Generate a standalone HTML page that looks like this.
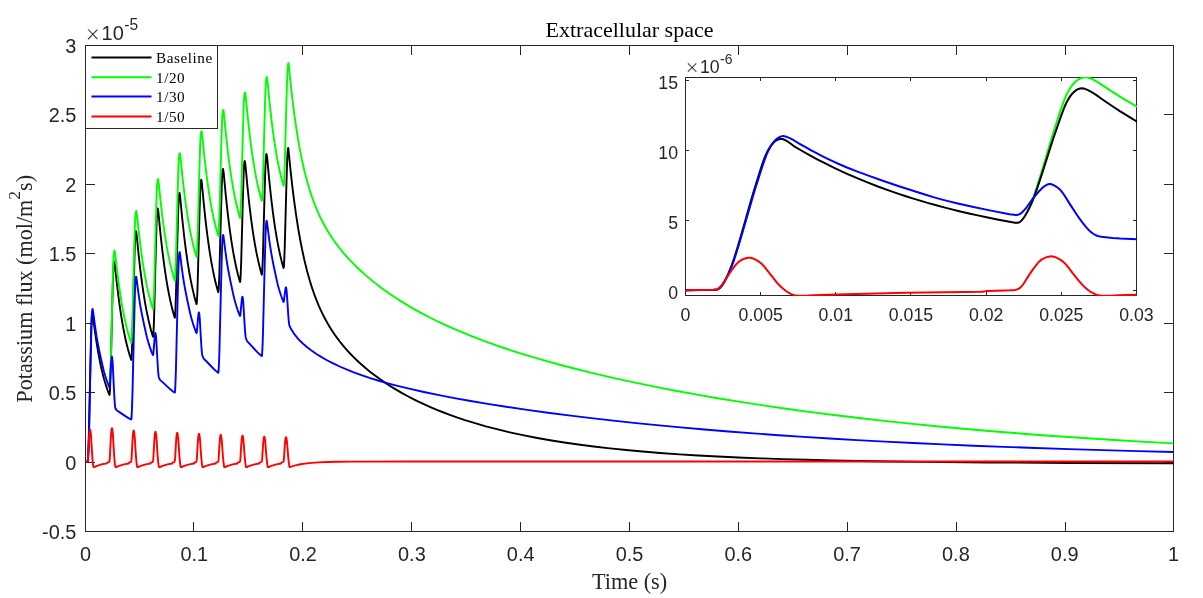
<!DOCTYPE html>
<html lang="en"><head><meta charset="utf-8"><title>Extracellular space</title>
<style>html,body{margin:0;padding:0;background:#fff;}body{width:1203px;height:598px;overflow:hidden;}svg{display:block;will-change:transform;}.tk{font-family:"Liberation Sans", Arial, Helvetica, sans-serif;font-size:19.90px;fill:#262626;}.lb{font-family:"Liberation Serif", "Times New Roman", Times, serif;}.ax{stroke:#262626;stroke-width:1;fill:none;shape-rendering:crispEdges;}.cv{fill:none;stroke-linejoin:round;stroke-linecap:butt;}</style></head><body>
<svg width="1203" height="598" viewBox="0 0 1203 598">
<rect x="0" y="0" width="1203" height="598" fill="#ffffff"/>
<defs><clipPath id="cm"><rect x="85.0" y="45.0" width="1089.0" height="487.0"/></clipPath><clipPath id="ci"><rect x="685.0" y="77.0" width="452.0" height="219.0"/></clipPath></defs>
<g class="ax">
<rect x="85.5" y="45.5" width="1088.0" height="486.0"/>
<path d="M193.5 531.5V522.0M193.5 45.5V55.0M302.5 531.5V522.0M302.5 45.5V55.0M411.5 531.5V522.0M411.5 45.5V55.0M520.5 531.5V522.0M520.5 45.5V55.0M629.5 531.5V522.0M629.5 45.5V55.0M738.5 531.5V522.0M738.5 45.5V55.0M847.5 531.5V522.0M847.5 45.5V55.0M956.5 531.5V522.0M956.5 45.5V55.0M1065.5 531.5V522.0M1065.5 45.5V55.0M85.5 462.5H95.0M1173.5 462.5H1164.0M85.5 392.5H95.0M1173.5 392.5H1164.0M85.5 323.5H95.0M1173.5 323.5H1164.0M85.5 253.5H95.0M1173.5 253.5H1164.0M85.5 184.5H95.0M1173.5 184.5H1164.0M85.5 114.5H95.0M1173.5 114.5H1164.0"/>
</g>
<g clip-path="url(#cm)">
<path class="cv" d="M85.5 461.92L87.55 461.43L87.74 461.22L87.87 460.6L88 459.29L88.24 454.94L88.63 444.28L89.03 429.98L90.4 365.54L91.18 332.09L91.64 319.38L91.88 315.4L92.14 312.76L92.27 312.04L92.4 311.71L92.51 311.84L92.66 312.57L92.92 314.57L93.46 319.9L94.18 325.58L95.23 333.33L96.29 340.63L97.32 347.08L98.38 353.3L99.47 359.14L100.6 364.72L101.65 369.46L102.73 374.01L103.84 378.27L104.98 382.26L106.26 386.39L107.59 390.25L109.28 394.65L109.44 394.95L109.5 394.97L109.54 394.9L109.65 394.41L109.78 393.15L110.02 389.08L110.65 371.88L112.22 307.02L113.05 276.43L113.31 270.08L113.57 265.67L113.83 262.93L113.98 262.02L114.14 261.56L114.2 261.53L114.27 261.62L114.44 262.26L114.9 265.24L117.03 284.98L119.01 300.92L120.69 312.64L122.43 323.32L123.45 328.97L124.52 334.4L125.6 339.51L126.71 344.29L127.93 349.1L129.17 353.55L130.8 358.8L131.15 359.81L131.28 359.93L131.39 359.58L131.52 358.48L131.76 354.73L132.39 338.4L133.98 275.05L134.83 244.91L135.11 238.53L135.4 234.31L135.7 231.79L135.85 231.22L135.94 231.12L136 231.18L136.33 232.66L136.7 235.5L138.7 255.48L140.57 271.82L142.29 284.9L144.1 296.9L145.12 303L146.19 308.87L147.28 314.38L148.41 319.65L149.63 324.83L150.89 329.71L152.5 335.29L152.89 336.53L152.98 336.71L153.04 336.73L153.15 336.39L153.26 335.53L153.5 331.98L153.83 324.68L154.15 315.28L155.74 252.13L156.57 222.68L156.83 216.57L157.11 212.05L157.42 209.26L157.57 208.57L157.66 208.38L157.72 208.36L157.85 208.68L158.05 209.68L158.44 212.69L160.48 233.79L162.4 251.04L164.1 264.35L165.88 276.6L166.9 282.9L167.97 288.96L169.06 294.66L170.19 300.11L171.41 305.46L172.65 310.43L174.24 316.13L174.65 317.49L174.8 317.7L174.91 317.38L175.02 316.55L175.26 313.1L175.59 305.99L175.91 296.84L177.5 235.4L178.33 206.74L178.59 200.79L178.87 196.39L179.18 193.67L179.35 192.94L179.48 192.81L179.61 193.13L179.81 194.16L180.2 197.22L182.24 218.69L184.16 236.25L185.86 249.79L187.64 262.26L188.66 268.67L189.73 274.84L190.82 280.64L191.95 286.18L193.17 291.63L194.41 296.68L195.98 302.42L196.41 303.87L196.56 304.09L196.67 303.77L196.78 302.95L197.02 299.51L197.35 292.44L197.67 283.33L199.26 222.15L200.09 193.62L200.35 187.7L200.63 183.32L200.92 180.75L201.07 180.02L201.22 179.75L201.35 180L201.55 180.99L201.96 184.22L204.03 206.15L205.96 224.05L207.66 237.71L209.42 250.13L210.45 256.6L211.51 262.83L212.6 268.68L213.71 274.17L214.93 279.69L216.17 284.79L217.74 290.59L218.17 292.06L218.32 292.29L218.43 291.98L218.54 291.15L218.78 287.75L219.11 280.73L219.43 271.69L221.02 210.99L221.85 182.68L222.11 176.81L222.39 172.46L222.68 169.91L222.83 169.19L222.98 168.91L223.11 169.18L223.31 170.17L223.72 173.41L225.79 195.45L227.72 213.44L229.42 227.16L231.18 239.64L232.21 246.15L233.27 252.41L234.36 258.29L235.47 263.81L236.69 269.35L237.93 274.48L239.5 280.3L239.93 281.78L240.08 282.02L240.19 281.71L240.3 280.91L240.54 277.56L240.87 270.68L241.19 261.81L242.78 202.27L243.61 174.5L243.87 168.74L244.15 164.48L244.44 161.97L244.59 161.26L244.74 161L244.87 161.26L245.07 162.26L245.48 165.52L247.55 187.66L249.48 205.75L251.18 219.53L252.94 232.07L253.97 238.61L255.03 244.9L256.12 250.81L257.23 256.36L258.45 261.92L259.69 267.08L261.26 272.94L261.69 274.42L261.84 274.66L261.95 274.35L262.06 273.55L262.3 270.22L262.63 263.36L262.95 254.52L264.54 195.19L265.37 167.51L265.63 161.77L265.91 157.52L266.2 155.02L266.35 154.32L266.5 154.05L266.63 154.32L266.83 155.32L267.24 158.59L269.31 180.79L271.24 198.91L272.94 212.73L274.7 225.3L275.73 231.86L276.79 238.16L277.88 244.09L278.99 249.65L280.21 255.23L281.45 260.4L283.02 266.27L283.45 267.75L283.6 267.99L283.71 267.69L283.82 266.89L284.06 263.57L284.39 256.74L284.71 247.93L286.3 188.8L287.13 161.21L287.39 155.49L287.65 151.52L287.93 148.9L288.09 148.15L288.22 147.9L288.32 148.2L288.43 149.03L290.28 167.85L292.15 184.89L293.94 199.41L295.79 212.92L297.81 226.12L299.94 238.5L302.19 250.04L304.56 260.86L307.08 271.05L309.74 280.51L311.13 285.04L312.59 289.49L314.07 293.74L315.61 297.9L317.2 301.93L318.83 305.82L320.53 309.63L322.29 313.35L324.12 316.99L326.01 320.54L327.97 324.01L330.02 327.43L332.26 330.96L334.61 334.46L337.05 337.88L339.59 341.26L342.25 344.59L344.99 347.85L347.84 351.07L350.8 354.24L353.89 357.39L357.06 360.48L360.37 363.54L363.77 366.53L367.29 369.5L370.9 372.41L374.65 375.28L378.48 378.1L382.33 380.81L386.27 383.47L390.31 386.08L394.45 388.64L398.67 391.15L402.98 393.6L407.4 396.01L411.9 398.36L417.34 401.08L421.69 403.16L427.13 405.64L431.48 407.55L436.92 409.83L442.36 412L447.8 414.08L453.24 416.07L464.12 419.79L475 423.19L485.88 426.31L497.85 429.45L509.82 432.31L522.88 435.15L535.93 437.73L550.08 440.24L564.22 442.51L578.36 444.55L593.6 446.52L609.92 448.4L626.24 450.07L642.56 451.56L659.96 452.96L679.55 454.34L698.04 455.47L717.63 456.52L738.3 457.47L760.06 458.34L782.91 459.11L806.84 459.8L831.87 460.4L860.16 460.96L889.53 461.44L920 461.84L988.54 462.48L1071.23 462.93L1173.5 463.22" stroke="#000000" stroke-width="1.9"/>
<path class="cv" d="M110.26 382.74L110.85 362.74L112.16 304.03L112.94 272.18L113.18 265L113.44 259.31L113.72 254.92L114.01 252.24L114.27 250.94L114.38 250.65L114.48 250.57L114.7 251.19L114.98 252.74L115.38 255.74L117.29 272.64L119.05 286.18L121.06 299.5L122.1 305.68L123.17 311.49L125.12 321.02L127.19 329.63L128.37 333.96L129.56 337.98L131.04 342.46L131.2 342.83L131.26 342.87L131.3 342.82L131.52 341.38L131.76 337.61L132.39 321.14L133.98 257.27L134.83 226.88L135.13 220.11L135.46 215.21L135.77 212.5L135.94 211.63L136.14 211.05L136.22 210.99L136.29 211.06L136.44 211.57L136.92 214.63L139.09 234.84L141.1 250.99L142.71 262.29L144.4 272.79L146.45 283.76L147.52 288.83L148.63 293.69L149.84 298.57L151.11 303.16L152.78 308.61L152.96 309.06L153.02 309.12L153.06 309.07L153.28 307.67L153.52 303.94L154.15 287.69L155.76 223.87L156.61 194.16L156.94 187.28L157.29 182.48L157.66 179.86L157.87 179.15L157.96 179.05L158.05 179.13L158.37 180.6L158.72 183.2L160.72 202.57L162.57 218.26L164.27 230.82L166.06 242.38L167.08 248.33L168.12 253.94L169.21 259.33L170.32 264.38L171.56 269.54L172.82 274.32L174.52 280.05L174.72 280.59L174.78 280.65L174.82 280.61L175.04 279.24L175.28 275.58L175.91 259.65L177.5 197.85L178.35 168.46L178.65 161.9L179.02 156.67L179.37 154.07L179.59 153.27L179.68 153.11L179.76 153.1L179.89 153.43L180.09 154.41L180.48 157.33L182.51 177.32L184.4 193.67L186.07 206.3L187.84 217.93L188.86 224L189.9 229.73L190.99 235.22L192.1 240.38L193.32 245.55L194.58 250.43L196.28 256.28L196.48 256.83L196.54 256.9L196.58 256.86L196.8 255.52L197.04 251.91L197.67 236.2L199.26 175.28L200.11 146.3L200.41 139.83L200.76 134.92L201.11 132.22L201.33 131.38L201.42 131.2L201.5 131.14L201.63 131.41L201.83 132.36L202.22 135.23L204.29 155.78L206.18 172.24L207.86 184.94L209.6 196.51L211.64 208.28L212.71 213.73L213.82 218.94L215.02 224.08L216.23 228.86L217.8 234.38L218.17 235.57L218.32 235.78L218.43 235.46L218.56 234.41L218.8 230.8L219.43 215.07L221.02 154.08L221.87 125.07L222.17 118.6L222.52 113.67L222.85 111.09L223.07 110.2L223.24 109.9L223.39 110.18L223.57 111.03L223.98 114.12L226.05 135.33L227.98 152.66L229.64 165.56L231.36 177.35L233.4 189.49L234.47 195.1L235.58 200.48L236.78 205.79L237.99 210.72L239.56 216.41L239.93 217.64L240.08 217.86L240.19 217.55L240.3 216.72L240.54 213.31L240.87 206.28L241.19 197.23L242.78 136.44L243.63 107.52L243.93 101.07L244.28 96.17L244.61 93.59L244.83 92.7L245 92.4L245.15 92.69L245.33 93.54L245.74 96.65L247.81 117.93L249.74 135.33L251.4 148.28L253.12 160.11L255.16 172.3L256.23 177.94L257.34 183.33L258.54 188.66L259.75 193.61L261.32 199.33L261.69 200.56L261.84 200.79L261.95 200.47L262.06 199.66L262.3 196.3L262.63 189.36L262.95 180.43L264.54 120.44L265.39 91.91L265.69 85.54L266.04 80.7L266.37 78.15L266.59 77.28L266.76 76.99L266.91 77.28L267.09 78.13L267.5 81.25L269.57 102.61L271.5 120.08L273.16 133.08L274.88 144.96L276.92 157.19L277.99 162.85L279.1 168.27L280.3 173.62L281.51 178.58L283.06 184.25L283.45 185.56L283.6 185.79L283.71 185.48L283.82 184.68L284.06 181.34L284.39 174.46L284.71 165.59L286.3 106.07L287.15 77.76L287.45 71.45L287.78 66.88L288.11 64.23L288.3 63.39L288.48 63.05L288.59 63.31L288.72 64.28L290.5 82.24L292.31 98.45L294 112.05L295.79 124.85L297.75 137.38L299.81 149.11L301.99 160.04L304.28 170.18L306.71 179.74L309.32 188.78L310.69 193.09L312.11 197.28L313.57 201.32L315.07 205.24L316.63 209.09L318.24 212.81L319.94 216.5L321.68 220.06L323.49 223.55L325.38 227.01L327.34 230.38L329.36 233.68L331.65 237.21L334.04 240.7L336.52 244.13L339.13 247.55L341.85 250.93L344.68 254.28L347.64 257.62L350.71 260.92L353.91 264.21L357.22 267.47L360.66 270.71L364.2 273.92L367.88 277.12L371.64 280.26L375.52 283.37L379.5 286.44L383.48 289.4L387.57 292.33L391.75 295.22L396.04 298.07L400.41 300.88L404.87 303.65L409.44 306.39L414.08 309.06L419.52 312.09L423.87 314.43L429.31 317.26L434.75 319.98L440.19 322.61L445.63 325.15L456.51 329.98L463.04 332.73L469.56 335.39L482.62 340.42L495.68 345.14L503.29 347.76L510.91 350.29L526.14 355.1L542.46 359.93L558.78 364.48L576.19 369.03L594.68 373.59L614.27 378.13L633.85 382.4L653.44 386.43L674.11 390.45L695.87 394.44L717.63 398.2L740.48 401.92L763.32 405.42L786.17 408.72L809.02 411.83L834.04 415.04L859.07 418.05L884.09 420.87L910.2 423.64L936.32 426.23L963.52 428.75L991.8 431.19L1020.09 433.47L1049.47 435.68L1079.93 437.8L1110.4 439.76L1140.86 441.58L1173.5 443.39" stroke="#00ff00" stroke-width="1.9"/>
<path class="cv" d="M85.5 461.92L87.55 461.43L87.74 461.23L87.87 460.62L88 459.36L88.24 455.19L88.66 444.22L89.07 429.39L90.5 362.96L91.35 327.74L91.61 320.2L91.9 314.46L92.2 310.66L92.35 309.6L92.53 308.96L92.59 308.91L92.64 308.96L92.75 309.3L93.12 311.45L94.99 325.9L96.55 336.38L97.95 344.13L99.77 353.21L102.82 366.87L104.08 371.93L105.13 375.49L106.35 379.24L107.61 382.85L108.96 386.36L109.28 387.03L109.39 387.16L109.48 387.16L109.61 386.77L109.76 385.59L110.07 381.55L110.81 368.1L111.29 360.82L111.48 358.62L111.7 356.97L111.85 356.5L112 356.84L112.37 359.43L112.72 363.89L114.01 390.56L114.48 399.08L114.83 403.94L115.14 406.83L115.42 408.33L115.57 408.74L115.81 409.15L116.7 410.28L117.23 410.72L119.45 412.1L125.73 416.38L128.5 418.07L131.13 419.48L131.28 419.34L131.41 418.71L131.63 416.19L131.89 410.88L132.48 393.65L134.05 326.44L134.92 292.98L135.18 286.29L135.46 281.24L135.77 277.98L135.94 277.03L136.09 276.69L136.2 276.85L136.31 277.29L136.68 279.54L138.36 292.6L139.73 302.03L140.73 308.01L142.12 315.34L144.14 325L146.97 337.42L148.41 342.61L150.3 348.43L151.37 351.41L152.56 354.49L152.91 355.09L153.02 355.1L153.11 354.93L153.3 353.84L153.54 351.58L154.35 341.07L154.85 335.66L155.07 334.05L155.26 333.12L155.35 332.96L155.41 332.98L155.57 333.45L155.94 335.88L156.26 339.65L157.42 360.46L158.09 370.79L158.53 375.34L158.72 376.66L158.94 377.57L159.35 378.51L159.85 379.45L160.29 380.11L160.72 380.6L162.84 382.4L170.04 389.09L172.95 391.43L174.54 392.58L174.74 392.64L174.87 392.31L175 391.38L175.24 387.92L175.61 379.34L175.93 369.48L177.59 300.11L178.46 267.39L178.74 260.52L179.02 255.87L179.33 252.96L179.5 252.15L179.63 251.98L179.83 252.6L180.2 254.92L181.79 267.76L183.07 277.01L184.03 283.08L185.2 289.63L187.25 299.95L190.19 313.44L191.41 318.27L192.99 323.58L194.47 328.04L195.95 332.06L196.35 332.9L196.48 333.04L196.58 332.97L196.8 332.01L197.04 329.97L197.87 319.95L198.39 314.73L198.61 313.28L198.8 312.49L198.87 312.4L198.93 312.42L199.11 312.97L199.46 315.25L199.78 318.92L200.94 339.23L201.61 349.3L202.02 353.57L202.22 354.91L202.44 355.85L203.37 357.98L203.81 358.71L204.24 359.27L206.36 361.28L213.56 368.78L216.41 371.35L218.04 372.69L218.26 372.77L218.39 372.46L218.52 371.55L218.76 368.16L219.13 359.75L219.45 350.08L221.11 282.08L221.98 250L222.26 243.27L222.54 238.71L222.85 235.85L223.02 235.06L223.15 234.9L223.37 235.64L223.74 238L225.26 250.34L226.5 259.34L227.42 265.23L228.48 271.26L230.6 282.03L233.53 295.59L234.66 300.24L236.19 305.47L237.6 309.82L238.78 313.13L239.69 315.5L239.93 315.91L240.02 315.96L240.08 315.93L240.3 315.15L240.54 313.31L241.41 303.51L241.93 298.71L242.13 297.51L242.32 296.77L242.41 296.68L242.48 296.75L242.65 297.35L243 299.61L243.33 303.26L244.46 322.43L245.11 331.82L245.54 336.18L245.74 337.47L245.96 338.37L246.92 340.61L247.33 341.34L247.76 341.92L249.88 344.04L257.08 351.91L259.91 354.59L261.56 356.01L261.78 356.11L261.91 355.8L262.04 354.91L262.28 351.59L262.65 343.34L262.97 333.85L264.63 267.15L265.5 235.68L265.76 229.51L266.04 224.88L266.35 221.94L266.5 221.17L266.65 220.86L266.74 220.97L266.85 221.39L267.2 223.51L269.35 240.56L270.37 247.64L271.31 253.37L272.68 260.82L274.07 267.8L276.75 280.2L277.84 284.88L279.21 289.81L280.95 295.28L283.02 301.01L283.3 301.65L283.54 301.95L283.67 301.86L283.78 301.54L284.04 300.11L284.93 292.51L285.43 288.98L285.8 287.47L285.93 287.34L286.06 287.57L286.43 289.41L286.78 292.6L288.39 316.76L288.83 321.79L289.26 324.93L289.43 325.63L289.67 326.23L290.65 328.2L291.72 330.11L293.61 333.07L295.77 335.98L297.29 337.82L298.94 339.67L300.68 341.47L302.56 343.28L304.54 345.08L306.6 346.83L308.82 348.6L311.13 350.33L316.11 353.78L321.55 357.17L327.41 360.47L333.67 363.69L340.22 366.75L347.14 369.72L354.43 372.59L362.13 375.37L370.25 378.08L378.85 380.72L387.94 383.31L397.56 385.85L410.27 388.95L423.87 392L439.1 395.16L454.33 398.08L470.65 401.01L489.15 404.1L507.64 407L527.23 409.87L547.9 412.72L568.57 415.39L589.24 417.9L611 420.39L633.85 422.84L656.7 425.14L680.64 427.4L704.57 429.51L728.51 431.48L753.53 433.41L778.56 435.21L803.58 436.89L829.69 438.52L856.89 440.1L885.18 441.63L913.47 443.04L942.84 444.39L973.31 445.69L1003.77 446.88L1035.32 448.01L1069.05 449.12L1102.78 450.13L1137.6 451.08L1173.5 451.97" stroke="#0000ff" stroke-width="1.9"/>
<path class="cv" d="M85.5 461.92L87.52 461.42L87.7 461.13L87.83 460.44L88.11 457.03L88.79 442.99L89.29 434.43L89.46 432.52L89.68 430.98L89.92 429.9L90.03 429.65L90.11 429.6L90.29 429.91L90.48 430.88L90.94 434.76L92.42 458.54L92.96 464.25L93.25 466.16L93.49 467.02L93.7 467.17L94.38 467.13L95.29 466.54L96.38 466.07L99.32 465.06L101.38 464.42L102.93 464.05L105.72 463.59L106.87 463.34L107.04 463.21L107.39 462.46L108.57 462.13L109 461.91L109.24 461.71L109.41 461.35L109.57 460.6L109.83 457.83L110.63 441.36L111.16 432.67L111.55 429.49L111.76 428.52L111.96 428.2L112.05 428.27L112.16 428.55L112.37 429.67L112.9 434.36L114.11 454.83L114.68 461.97L114.96 464.46L115.27 466.36L115.49 467.04L115.59 467.14L115.77 467.18L116.42 467.13L117.33 466.55L118.34 466.13L123.04 464.61L125.17 464.08L128.65 463.5L128.82 463.32L129.15 462.47L130.5 462.06L130.91 461.82L131.11 461.57L131.37 460.41L131.61 457.81L132.37 443.18L132.89 434.96L133.28 431.87L133.52 430.85L133.72 430.55L133.81 430.61L133.92 430.87L134.13 431.92L134.66 436.28L135.87 455.33L136.48 462.44L136.77 464.78L137.05 466.46L137.25 467.04L137.35 467.14L137.53 467.18L138.18 467.13L139.09 466.55L140.1 466.13L144.8 464.61L146.93 464.08L150.41 463.5L150.58 463.32L150.91 462.47L152.28 462.06L152.67 461.84L152.87 461.59L153.13 460.47L153.37 457.98L154.13 443.93L154.65 436.03L155.04 433.06L155.28 432.08L155.48 431.8L155.57 431.86L155.68 432.1L155.89 433.11L156.42 437.3L157.63 455.6L158.27 462.66L158.55 464.93L158.81 466.46L159.01 467.04L159.11 467.14L159.29 467.18L159.94 467.13L160.85 466.55L161.86 466.13L166.56 464.61L168.69 464.08L172.17 463.5L172.34 463.32L172.67 462.47L174.04 462.06L174.43 461.85L174.63 461.61L174.89 460.53L175.13 458.11L175.89 444.51L176.41 436.87L176.8 433.99L177.04 433.04L177.24 432.76L177.33 432.82L177.44 433.06L177.65 434.03L178.18 438.09L179.39 455.81L180.03 462.66L180.31 464.93L180.57 466.46L180.77 467.04L180.87 467.14L181.05 467.18L181.7 467.13L182.61 466.55L183.62 466.13L188.32 464.61L190.45 464.08L193.93 463.5L194.1 463.32L194.43 462.47L195.8 462.07L196.19 461.86L196.39 461.62L196.65 460.58L196.89 458.24L197.65 445.09L198.17 437.7L198.56 434.91L198.8 434L199 433.73L199.09 433.79L199.2 434.02L199.41 434.96L199.94 438.88L201.18 456.29L201.83 463.06L202.11 465.22L202.35 466.55L202.55 467.07L202.81 467.18L203.46 467.13L204.37 466.55L205.38 466.13L210.08 464.61L212.21 464.08L215.69 463.5L215.84 463.36L216.08 462.64L216.21 462.45L217.54 462.08L217.95 461.87L218.15 461.64L218.41 460.64L218.65 458.39L219.41 445.75L219.93 438.65L220.32 435.97L220.56 435.1L220.76 434.84L220.96 435.12L221.17 436.02L221.7 439.79L222.94 456.52L223.61 463.25L224.11 466.55L224.31 467.07L224.57 467.18L225.22 467.13L226.13 466.55L227.14 466.13L231.84 464.61L233.97 464.08L237.45 463.5L237.6 463.36L237.84 462.64L237.97 462.45L239.3 462.08L239.71 461.87L239.91 461.66L240.17 460.68L240.41 458.5L241.17 446.25L241.69 439.36L242.08 436.77L242.32 435.92L242.52 435.67L242.72 435.94L242.93 436.81L243.46 440.47L244.7 456.69L245.39 463.44L245.87 466.55L246.07 467.07L246.33 467.18L246.98 467.13L247.89 466.55L248.9 466.13L253.6 464.61L255.73 464.08L259.21 463.5L259.36 463.36L259.6 462.64L259.73 462.45L261.06 462.09L261.47 461.88L261.67 461.67L261.93 460.73L262.17 458.63L262.93 446.83L263.45 440.19L263.84 437.7L264.08 436.88L264.28 436.63L264.48 436.89L264.69 437.74L265.22 441.26L266.46 456.88L267.2 463.79L267.65 466.63L267.83 467.07L268.09 467.18L268.74 467.13L269.65 466.55L270.66 466.13L275.36 464.61L277.49 464.08L280.97 463.5L281.12 463.36L281.36 462.64L281.49 462.45L282.82 462.09L283.23 461.89L283.43 461.68L283.69 460.76L283.93 458.71L284.69 447.16L285.21 440.67L285.6 438.23L285.84 437.43L286.04 437.19L286.24 437.44L286.45 438.26L286.98 441.71L288.22 457L288.93 463.62L289.37 466.46L289.54 467L289.76 467.16L294.42 465.7L296.79 465.09L299.36 464.54L302.16 464.03L304.93 463.61L311.48 462.88L318.79 462.36L327.41 462L337.92 461.76L351.8 461.61L411.9 461.52L1173.5 461.52" stroke="#ff0000" stroke-width="1.9"/>
</g>
<g class="tk" text-anchor="middle">
<text x="85.5" y="561">0</text>
<text x="194.3" y="561">0.1</text>
<text x="303.1" y="561">0.2</text>
<text x="411.9" y="561">0.3</text>
<text x="520.7" y="561">0.4</text>
<text x="629.5" y="561">0.5</text>
<text x="738.3" y="561">0.6</text>
<text x="847.1" y="561">0.7</text>
<text x="955.9" y="561">0.8</text>
<text x="1064.7" y="561">0.9</text>
<text x="1173.5" y="561">1</text>
</g>
<g class="tk" text-anchor="end">
<text x="76.3" y="538.9">-0.5</text>
<text x="76.3" y="469.5">0</text>
<text x="76.3" y="400.0">0.5</text>
<text x="76.3" y="330.6">1</text>
<text x="76.3" y="261.2">1.5</text>
<text x="76.3" y="191.8">2</text>
<text x="76.3" y="122.3">2.5</text>
<text x="76.3" y="52.9">3</text>
</g>
<text class="tk" x="85.6" y="43.2" style="font-size:25px;stroke:#fff;stroke-width:0.7px">×</text>
<text class="tk" x="101.6" y="40">10</text>
<text class="tk" x="124.2" y="30" style="font-size:15.6px">-5</text>
<text class="lb" x="629.5" y="37.2" style="font-size:22px" text-anchor="middle">Extracellular space</text>
<text class="lb" x="629.5" y="589.2" style="font-size:22.25px" text-anchor="middle" fill="#262626">Time (s)</text>
<text class="lb" transform="translate(32,288.8) rotate(-90)" style="font-size:22.15px" text-anchor="middle" fill="#262626">Potassium flux (mol/m<tspan dy="-11.6" style="font-size:17.5px">2</tspan><tspan dy="11.6">s)</tspan></text>
<rect x="85.5" y="45.5" width="132.0" height="83.0" fill="#fff" stroke="#262626" stroke-width="1" shape-rendering="crispEdges"/>
<path d="M91.5 57.4H151.5" stroke="#000000" stroke-width="2" fill="none"/>
<text class="lb" x="156" y="62.8" style="font-size:15.2px" letter-spacing="0.55">Baseline</text>
<path d="M91.5 77.3H151.5" stroke="#00ff00" stroke-width="2" fill="none"/>
<text class="lb" x="156" y="82.7" style="font-size:15.2px" letter-spacing="0.55">1/20</text>
<path d="M91.5 96.6H151.5" stroke="#0000ff" stroke-width="2" fill="none"/>
<text class="lb" x="156" y="102.0" style="font-size:15.2px" letter-spacing="0.55">1/30</text>
<path d="M91.5 116.4H151.5" stroke="#ff0000" stroke-width="2" fill="none"/>
<text class="lb" x="156" y="121.8" style="font-size:15.2px" letter-spacing="0.55">1/50</text>
<rect x="685.5" y="77.5" width="451.0" height="218.0" fill="#fff"/>
<g class="ax">
<rect x="685.5" y="77.5" width="451.0" height="218.0"/>
<path d="M760.5 295.5V292.0M760.5 77.5V81.0M835.5 295.5V292.0M835.5 77.5V81.0M910.5 295.5V292.0M910.5 77.5V81.0M986.5 295.5V292.0M986.5 77.5V81.0M1061.5 295.5V292.0M1061.5 77.5V81.0M685.5 290.5H689.0M1136.5 290.5H1133.0M685.5 220.5H689.0M1136.5 220.5H1133.0M685.5 150.5H689.0M1136.5 150.5H1133.0M685.5 80.5H689.0M1136.5 80.5H1133.0"/>
</g>
<g clip-path="url(#ci)">
<path class="cv" d="M1027.66 210.51L1029.76 206.08L1031.87 201.1L1033.97 195.57L1036.08 189.45L1038.48 181.93L1042.39 169.28L1051.11 139.99L1053.52 132.11L1060.43 110.89L1062.24 105.59L1063.74 101.41L1065.24 97.56L1066.44 94.81L1067.65 92.37L1069.15 89.69L1070.65 87.34L1072.46 84.91L1074.26 82.84L1076.07 81.11L1077.87 79.78L1078.77 79.25L1079.97 78.66L1081.18 78.18L1082.38 77.79L1084.48 77.34L1085.99 77.26L1087.49 77.46L1089.3 77.98L1091.7 78.9L1094.71 80.36L1098.01 82.29L1100.42 83.84L1106.43 87.94L1111.24 91.09L1117.26 94.91L1123.57 98.78L1133.49 104.61L1143.72 110.28" stroke="#00ff00" stroke-width="2"/>
<path class="cv" d="M685.5 290.35L713.76 289.86L715.27 289.79L716.47 289.65L717.37 289.41L718.27 289.01L719.17 288.45L719.78 287.96L720.68 287.08L721.28 286.39L722.18 285.18L723.08 283.8L724.59 281.2L726.09 278.35L727.59 275.25L728.8 272.56L730 269.69L731.5 265.85L733.01 261.69L734.21 258.14L736.91 249.5L741.12 235.28L750.74 201.4L753.15 193.17L760.37 170L762.47 163.65L764.27 158.66L765.78 154.99L767.28 151.81L769.09 148.52L770.89 145.78L772.69 143.55L774.5 141.79L775.4 141.07L776.3 140.46L777.2 139.96L778.41 139.43L779.31 139.15L780.21 138.96L781.11 138.9L781.71 138.93L782.31 139.04L783.22 139.29L785.32 140.2L786.82 141.02L788.03 141.78L793.14 145.56L795.54 147.15L802.16 151.01L809.07 154.9L817.19 159.28L825.31 163.47L833.73 167.62L842.15 171.58L848.16 174.3L854.17 176.93L866.2 181.93L878.53 186.72L891.46 191.41L898.67 193.88L905.89 196.26L913.41 198.63L920.92 200.91L928.44 203.1L936.26 205.28L944.07 207.36L951.89 209.36L960.31 211.42L969.03 213.45L977.75 215.39L986.47 217.23L997.29 219.4L1008.12 221.44L1015.03 222.67L1016.23 222.82L1017.14 222.84L1018.04 222.72L1018.64 222.54L1019.24 222.28L1020.14 221.74L1020.74 221.27L1021.65 220.43L1023.15 218.64L1024.95 215.97L1027.36 211.85L1029.46 207.76L1031.27 203.85L1032.77 200.31L1033.97 197.27L1035.48 193.22L1036.98 188.92L1042.69 171.67L1051.11 145.11L1053.52 137.72L1060.43 117.81L1063.44 109.67L1064.94 105.98L1066.14 103.33L1067.65 100.4L1069.15 97.85L1070.65 95.64L1072.16 93.76L1073.66 92.2L1075.16 90.91L1076.67 89.89L1077.57 89.41L1078.47 89.02L1080.28 88.48L1081.78 88.3L1083.28 88.45L1084.79 88.84L1086.89 89.62L1088.99 90.57L1091.7 92.05L1094.41 93.75L1096.81 95.4L1102.52 99.51L1107.64 103.05L1113.95 107.29L1120.26 111.38L1125.98 114.95L1131.99 118.6L1137.7 121.95L1143.72 125.37" stroke="#000000" stroke-width="2"/>
<path class="cv" d="M685.5 290.35L713.76 289.86L715.27 289.8L716.47 289.65L717.37 289.42L718.27 289.04L719.17 288.49L720.08 287.77L720.98 286.86L721.58 286.15L722.48 284.94L723.38 283.56L724.89 280.98L726.39 278.17L727.89 275.13L729.1 272.5L730.6 268.96L732.1 265.16L733.61 261.06L734.81 257.55L737.52 249.06L742.03 234.06L751.95 199.66L754.65 190.58L762.47 165.97L764.58 159.83L766.38 155.06L768.18 150.95L769.99 147.46L771.19 145.42L772.09 144.04L773.9 141.67L774.8 140.66L776 139.48L777.2 138.47L778.11 137.84L779.01 137.32L780.21 136.77L781.41 136.37L782.62 136.12L783.52 136.08L784.12 136.13L785.62 136.47L788.03 137.39L790.73 138.64L793.74 140.24L800.05 144.02L805.17 146.94L811.18 150.29L816.59 153.21L821.7 155.85L827.72 158.85L833.13 161.44L838.24 163.77L846.96 167.47L857.48 171.59L869.81 176.18L882.74 180.74L898.97 186.18L924.83 194.51L934.15 197.37L942.27 199.62L949.18 201.39L956.7 203.2L973.54 206.98L990.98 210.63L1009.62 214.17L1014.13 214.84L1015.63 214.97L1016.83 214.97L1017.74 214.85L1018.64 214.58L1019.54 214.16L1020.74 213.39L1021.65 212.68L1022.85 211.59L1024.95 209.32L1026.76 207.03L1032.17 199.66L1035.18 195.76L1038.78 191.54L1040.29 189.92L1041.79 188.42L1043.29 187.1L1044.5 186.2L1046 185.27L1047.2 184.66L1048.4 184.24L1049.31 184.08L1050.21 184.08L1051.41 184.31L1052.61 184.72L1054.12 185.39L1055.32 186.04L1056.52 186.8L1057.73 187.69L1058.93 188.7L1060.13 189.84L1061.33 191.15L1062.84 193.05L1064.34 195.22L1070.05 204.38L1076.67 214.5L1079.37 218.4L1082.08 222.05L1085.69 226.63L1087.19 228.38L1088.39 229.67L1089.6 230.84L1091.1 232.14L1092.6 233.29L1094.11 234.29L1095.31 234.96L1096.51 235.52L1097.71 235.97L1098.92 236.32L1101.32 236.78L1105.53 237.27L1112.75 237.97L1120.26 238.52L1143.72 239.6" stroke="#0000ff" stroke-width="2"/>
<path class="cv" d="M685.5 290.35L713.46 289.85L714.66 289.76L715.87 289.55L716.77 289.26L717.67 288.86L718.87 288.11L719.78 287.38L720.68 286.48L721.58 285.41L723.08 283.29L727.59 276.16L730.9 271.26L733.01 268.39L735.11 265.67L736.61 263.88L737.82 262.63L739.02 261.57L740.22 260.7L741.72 259.85L743.23 259.16L745.03 258.48L746.54 258.06L748.04 257.81L749.24 257.76L750.44 257.85L751.65 258.08L752.85 258.44L754.35 259.06L755.86 259.82L757.66 260.87L759.16 261.85L760.67 262.97L762.17 264.31L763.97 266.26L765.48 268.12L769.99 273.98L776 281.48L778.71 284.56L781.11 286.94L783.22 288.79L785.32 290.47L787.13 291.76L788.63 292.69L790.73 293.82L792.54 294.62L794.34 295.21L795.84 295.49L797.05 295.6L798.85 295.65L808.17 295.6L820.8 295.01L835.83 294.53L876.42 293.51L904.99 292.87L926.33 292.5L964.82 292.03L980.75 291.78L983.16 291.64L986.47 291.04L987.97 290.89L1004.21 290.55L1010.22 290.34L1013.53 290.14L1014.73 290L1015.93 289.77L1017.14 289.41L1018.04 289.02L1018.94 288.52L1019.84 287.9L1020.74 287.14L1021.65 286.22L1022.55 285.14L1023.75 283.46L1029.16 274.9L1032.77 269.62L1034.87 266.77L1036.98 264.08L1038.48 262.34L1039.99 260.86L1041.19 259.9L1042.39 259.12L1043.89 258.32L1045.4 257.65L1046.9 257.1L1048.4 256.68L1049.91 256.42L1051.11 256.35L1052.31 256.42L1053.82 256.7L1055.02 257.07L1056.52 257.69L1058.33 258.61L1060.13 259.68L1061.93 260.88L1063.44 262.03L1064.94 263.42L1066.75 265.42L1072.46 272.8L1078.47 280.35L1080.88 283.2L1082.98 285.44L1084.48 286.88L1086.29 288.47L1088.09 289.94L1089.6 291.06L1090.8 291.85L1092.3 292.74L1094.11 293.68L1095.61 294.36L1097.41 295.01L1099.22 295.42L1101.02 295.6L1103.73 295.65L1113.35 295.58L1125.98 295L1143.72 294.47" stroke="#ff0000" stroke-width="2"/>
</g>
<g class="tk" text-anchor="middle" style="font-size:17.7px">
<text x="685.5" y="320.8">0</text>
<text x="760.7" y="320.8">0.005</text>
<text x="835.8" y="320.8">0.01</text>
<text x="911.0" y="320.8">0.015</text>
<text x="986.2" y="320.8">0.02</text>
<text x="1061.3" y="320.8">0.025</text>
<text x="1136.5" y="320.8">0.03</text>
</g>
<g class="tk" text-anchor="end" style="font-size:17.7px">
<text x="678" y="299.1">0</text>
<text x="678" y="229.1">5</text>
<text x="678" y="159.1">10</text>
<text x="678" y="89.1">15</text>
</g>
<text class="tk" x="685.6" y="75.4" style="font-size:22.5px;stroke:#fff;stroke-width:0.6px">×</text>
<text class="tk" x="700" y="72.7" style="font-size:17.7px">10</text>
<text class="tk" x="720" y="63.5" style="font-size:13.9px">-6</text>
</svg></body></html>
